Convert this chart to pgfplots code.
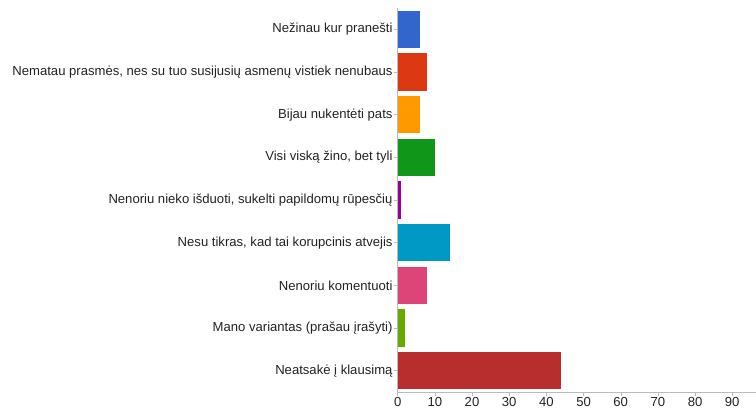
\documentclass[border=0pt]{standalone}
\usepackage{pgfplots}
\pgfplotsset{compat=1.18}
\usepackage{fontspec}
\setmainfont{Liberation Sans}
\definecolor{c1}{HTML}{3366CC}
\definecolor{c2}{HTML}{DC3912}
\definecolor{c3}{HTML}{FF9900}
\definecolor{c4}{HTML}{109618}
\definecolor{c5}{HTML}{990099}
\definecolor{c6}{HTML}{0099C6}
\definecolor{c7}{HTML}{DD4477}
\definecolor{c8}{HTML}{66AA00}
\definecolor{c9}{HTML}{B82E2E}
\definecolor{axisgray}{HTML}{BBBBBB}
\definecolor{labelc}{HTML}{222222}
\begin{document}
\begin{tikzpicture}
\begin{axis}[name=ax, scale only axis, width=358.3pt, height=384pt,
  ymin=-0.5, ymax=8.5, xmin=0, xmax=96.4,
  ytick={0,...,8},
  yticklabels={Neatsakė į klausimą, Mano variantas (prašau įrašyti), Nenoriu komentuoti, {Nesu tikras, kad tai korupcinis atvejis}, {Nenoriu nieko išduoti, sukelti papildomų rūpesčių}, {Visi viską žino, bet tyli}, Bijau nukentėti pats, {Nematau prasmės, nes su tuo susijusių asmenų vistiek nenubaus}, Nežinau kur pranešti},
  xtick={0,10,...,90},
  axis x line=bottom, axis y line=left,
  axis line style={-, draw=axisgray},
  tick style={draw=axisgray, thin}, tick align=outside, major tick length=4pt,
  ticklabel style={font=\fontsize{13.1}{15}\selectfont, text=labelc},
  yticklabel style={inner sep=1pt},
  xticklabel style={inner sep=0pt, yshift=-0.8pt},
  /pgf/number format/assume math mode=true,
  clip=false]
\addplot[xbar, bar shift=0pt, bar width=0.87, fill=c9, draw=none] coordinates {(44,0)};
\addplot[xbar, bar shift=0pt, bar width=0.87, fill=c8, draw=none] coordinates {(2,1)};
\addplot[xbar, bar shift=0pt, bar width=0.87, fill=c7, draw=none] coordinates {(8,2)};
\addplot[xbar, bar shift=0pt, bar width=0.87, fill=c6, draw=none] coordinates {(14,3)};
\addplot[xbar, bar shift=0pt, bar width=0.87, fill=c5, draw=none] coordinates {(1,4)};
\addplot[xbar, bar shift=0pt, bar width=0.87, fill=c4, draw=none] coordinates {(10,5)};
\addplot[xbar, bar shift=0pt, bar width=0.87, fill=c3, draw=none] coordinates {(6,6)};
\addplot[xbar, bar shift=0pt, bar width=0.87, fill=c2, draw=none] coordinates {(8,7)};
\addplot[xbar, bar shift=0pt, bar width=0.87, fill=c1, draw=none] coordinates {(6,8)};
\end{axis}
\pgfresetboundingbox
\path[use as bounding box] ([xshift=-397.7pt,yshift=-16.3pt]ax.south west) rectangle ([yshift=8pt]ax.north east);
\end{tikzpicture}
\end{document}
